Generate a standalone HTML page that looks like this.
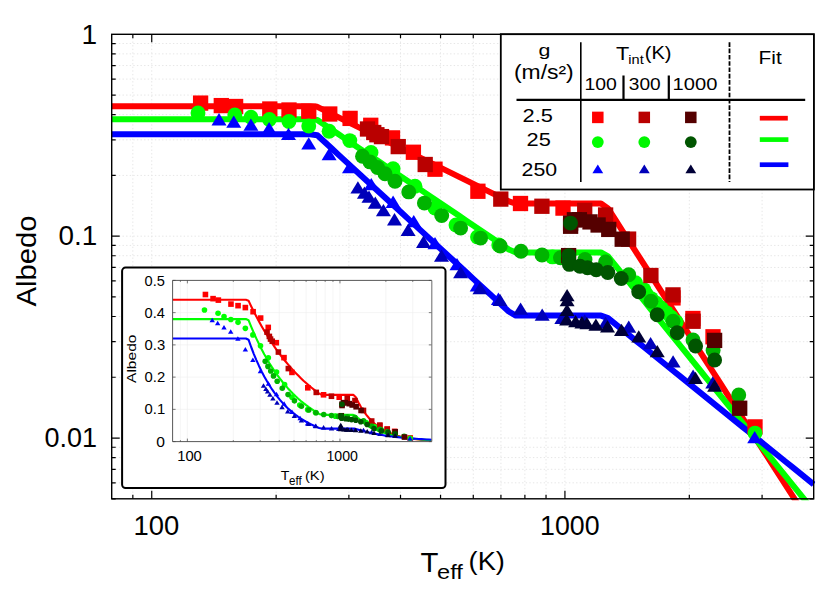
<!DOCTYPE html>
<html><head><meta charset="utf-8"><title>Albedo vs Teff</title>
<style>html,body{margin:0;padding:0;background:#fff;}body{width:832px;height:604px;overflow:hidden;font-family:"Liberation Sans",sans-serif;}</style>
</head><body>
<svg width="832" height="604" viewBox="0 0 832 604" style="display:block" font-family="Liberation Sans, sans-serif">
<rect width="832" height="604" fill="#ffffff"/>
<defs><clipPath id="cp"><rect x="111.7" y="34.3" width="703.5" height="466.0"/></clipPath><clipPath id="icp"><rect x="172.6" y="280.4" width="259.20000000000005" height="161.20000000000005"/></clipPath></defs>
<path d="M132.84,34.3V498.8 M151.74,34.3V498.8 M276.13,34.3V498.8 M348.88,34.3V498.8 M400.51,34.3V498.8 M440.55,34.3V498.8 M473.27,34.3V498.8 M500.93,34.3V498.8 M524.89,34.3V498.8 M546.03,34.3V498.8 M564.93,34.3V498.8 M689.32,34.3V498.8 M762.08,34.3V498.8 M111.7,482.82H813.7 M111.7,469.30H813.7 M111.7,457.60H813.7 M111.7,447.27H813.7 M111.7,438.03H813.7 M111.7,377.26H813.7 M111.7,341.72H813.7 M111.7,316.50H813.7 M111.7,296.93H813.7 M111.7,280.95H813.7 M111.7,267.44H813.7 M111.7,255.73H813.7 M111.7,245.40H813.7 M111.7,236.17H813.7 M111.7,175.40H813.7 M111.7,139.85H813.7 M111.7,114.63H813.7 M111.7,95.07H813.7 M111.7,79.08H813.7 M111.7,65.57H813.7 M111.7,53.86H813.7 M111.7,43.54H813.7" stroke="#e6e6e6" stroke-width="1" stroke-dasharray="1.4,2.2" fill="none"/>
<path d="M132.84,34.3v4M132.84,498.8v-4 M151.74,34.3v8M151.74,498.8v-8 M276.13,34.3v4M276.13,498.8v-4 M348.88,34.3v4M348.88,498.8v-4 M400.51,34.3v4M400.51,498.8v-4 M440.55,34.3v4M440.55,498.8v-4 M473.27,34.3v4M473.27,498.8v-4 M500.93,34.3v4M500.93,498.8v-4 M524.89,34.3v4M524.89,498.8v-4 M546.03,34.3v4M546.03,498.8v-4 M564.93,34.3v8M564.93,498.8v-8 M689.32,34.3v4M689.32,498.8v-4 M762.08,34.3v4M762.08,498.8v-4 M111.7,482.82h4M813.7,482.82h-4 M111.7,469.30h4M813.7,469.30h-4 M111.7,457.60h4M813.7,457.60h-4 M111.7,447.27h4M813.7,447.27h-4 M111.7,438.03h8M813.7,438.03h-8 M111.7,377.26h4M813.7,377.26h-4 M111.7,341.72h4M813.7,341.72h-4 M111.7,316.50h4M813.7,316.50h-4 M111.7,296.93h4M813.7,296.93h-4 M111.7,280.95h4M813.7,280.95h-4 M111.7,267.44h4M813.7,267.44h-4 M111.7,255.73h4M813.7,255.73h-4 M111.7,245.40h4M813.7,245.40h-4 M111.7,236.17h8M813.7,236.17h-8 M111.7,175.40h4M813.7,175.40h-4 M111.7,139.85h4M813.7,139.85h-4 M111.7,114.63h4M813.7,114.63h-4 M111.7,95.07h4M813.7,95.07h-4 M111.7,79.08h4M813.7,79.08h-4 M111.7,65.57h4M813.7,65.57h-4 M111.7,53.86h4M813.7,53.86h-4 M111.7,43.54h4M813.7,43.54h-4 M111.7,498.80h4M813.7,498.80h-4" stroke="#000" stroke-width="1.2" fill="none"/>
<g clip-path="url(#cp)" fill="none" stroke-width="6.0" stroke-linejoin="round">
<polyline points="111.70,106.27 118.79,106.27 125.88,106.27 132.97,106.27 140.06,106.27 147.15,106.27 154.25,106.27 161.34,106.27 168.43,106.27 175.52,106.27 182.61,106.27 189.70,106.27 196.79,106.27 203.88,106.27 210.97,106.27 218.06,106.27 225.15,106.27 232.25,106.27 239.34,106.27 246.43,106.27 253.52,106.27 260.61,106.27 267.70,106.27 274.79,106.27 281.88,106.27 288.97,106.27 296.06,106.27 303.15,106.27 310.25,106.27 317.34,106.85 324.43,110.35 331.52,113.85 338.61,117.35 345.70,120.85 352.79,124.35 359.88,127.85 366.97,131.35 374.06,134.85 381.15,138.35 388.25,141.85 395.34,145.36 402.43,148.86 409.52,152.36 416.61,155.86 423.70,159.36 430.79,162.86 437.88,166.36 444.97,169.86 452.06,173.36 459.15,176.86 466.25,180.36 473.34,183.86 480.43,187.36 487.52,190.86 494.61,194.36 501.70,197.86 508.79,201.36 515.88,203.59 522.97,203.59 530.06,203.59 537.15,203.59 544.25,203.59 551.34,203.59 558.43,203.59 565.52,203.59 572.61,203.59 579.70,203.59 586.79,203.59 593.88,203.59 600.97,203.59 608.06,208.40 615.15,219.45 622.25,230.51 629.34,241.56 636.43,252.61 643.52,263.66 650.61,274.71 657.70,285.76 664.79,296.81 671.88,307.86 678.97,318.91 686.06,329.96 693.15,341.02 700.25,352.07 707.34,363.12 714.43,374.17 721.52,385.22 728.61,396.27 735.70,407.32 742.79,418.37 749.88,429.42 756.97,440.48 764.06,451.53 771.15,462.58 778.25,473.63 785.34,484.68 792.43,495.73 799.52,506.78 806.61,517.83 813.70,528.88" stroke="#ff0000"/>
<polyline points="111.70,119.13 118.79,119.13 125.88,119.13 132.97,119.13 140.06,119.13 147.15,119.13 154.25,119.13 161.34,119.13 168.43,119.13 175.52,119.13 182.61,119.13 189.70,119.13 196.79,119.13 203.88,119.13 210.97,119.13 218.06,119.13 225.15,119.13 232.25,119.13 239.34,119.13 246.43,119.13 253.52,119.13 260.61,119.13 267.70,119.13 274.79,119.13 281.88,119.13 288.97,119.13 296.06,119.13 303.15,119.13 310.25,119.13 317.34,119.92 324.43,124.72 331.52,129.51 338.61,134.31 345.70,139.11 352.79,143.90 359.88,148.70 366.97,153.50 374.06,158.30 381.15,163.09 388.25,167.89 395.34,172.69 402.43,177.49 409.52,182.28 416.61,187.08 423.70,191.88 430.79,196.67 437.88,201.47 444.97,206.27 452.06,211.07 459.15,215.86 466.25,220.66 473.34,225.46 480.43,230.25 487.52,235.05 494.61,239.85 501.70,244.65 508.79,249.44 515.88,252.50 522.97,252.50 530.06,252.50 537.15,252.50 544.25,252.50 551.34,252.50 558.43,252.50 565.52,252.50 572.61,252.50 579.70,252.50 586.79,252.50 593.88,252.50 600.97,252.50 608.06,256.33 615.15,265.11 622.25,273.89 629.34,282.67 636.43,291.45 643.52,300.23 650.61,309.02 657.70,317.80 664.79,326.58 671.88,335.36 678.97,344.14 686.06,352.93 693.15,361.71 700.25,370.49 707.34,379.27 714.43,388.05 721.52,396.84 728.61,405.62 735.70,414.40 742.79,423.18 749.88,431.96 756.97,440.75 764.06,449.53 771.15,458.31 778.25,467.09 785.34,475.87 792.43,484.66 799.52,493.44 806.61,502.22 813.70,511.00" stroke="#00ff00"/>
<polyline points="111.70,134.19 118.79,134.19 125.88,134.19 132.97,134.19 140.06,134.19 147.15,134.19 154.25,134.19 161.34,134.19 168.43,134.19 175.52,134.19 182.61,134.19 189.70,134.19 196.79,134.19 203.88,134.19 210.97,134.19 218.06,134.19 225.15,134.19 232.25,134.19 239.34,134.19 246.43,134.19 253.52,134.19 260.61,134.19 267.70,134.19 274.79,134.19 281.88,134.19 288.97,134.19 296.06,134.19 303.15,134.19 310.25,134.19 317.34,135.27 324.43,141.79 331.52,148.32 338.61,154.85 345.70,161.37 352.79,167.90 359.88,174.42 366.97,180.95 374.06,187.48 381.15,194.00 388.25,200.53 395.34,207.05 402.43,213.58 409.52,220.10 416.61,226.63 423.70,233.16 430.79,239.68 437.88,246.21 444.97,252.73 452.06,259.26 459.15,265.78 466.25,272.31 473.34,278.84 480.43,285.36 487.52,291.89 494.61,298.41 501.70,304.94 508.79,311.47 515.88,315.62 522.97,315.62 530.06,315.62 537.15,315.62 544.25,315.62 551.34,315.62 558.43,315.62 565.52,315.62 572.61,315.62 579.70,315.62 586.79,315.62 593.88,315.62 600.97,315.62 608.06,318.12 615.15,323.85 622.25,329.59 629.34,335.32 636.43,341.05 643.52,346.79 650.61,352.52 657.70,358.25 664.79,363.99 671.88,369.72 678.97,375.45 686.06,381.19 693.15,386.92 700.25,392.65 707.34,398.39 714.43,404.12 721.52,409.86 728.61,415.59 735.70,421.32 742.79,427.06 749.88,432.79 756.97,438.52 764.06,444.26 771.15,449.99 778.25,455.72 785.34,461.46 792.43,467.19 799.52,472.92 806.61,478.66 813.70,484.39" stroke="#0000ff"/>
</g>
<g>
<rect x="192.95" y="95.45" width="15.30" height="15.30" fill="#ff0000"/>
<rect x="213.65" y="97.95" width="15.30" height="15.30" fill="#ff0000"/>
<rect x="227.95" y="98.85" width="15.30" height="15.30" fill="#ff0000"/>
<rect x="262.15" y="101.35" width="15.30" height="15.30" fill="#ff0000"/>
<rect x="281.35" y="102.35" width="15.30" height="15.30" fill="#ff0000"/>
<rect x="301.10" y="103.60" width="15.30" height="15.30" fill="#ff0000"/>
<rect x="322.10" y="106.35" width="15.30" height="15.30" fill="#ff0000"/>
<rect x="342.45" y="110.75" width="15.30" height="15.30" fill="#ff0000"/>
<rect x="363.10" y="117.65" width="15.30" height="15.30" fill="#ff0000"/>
<rect x="384.85" y="130.25" width="15.30" height="15.30" fill="#ff0000"/>
<rect x="405.75" y="144.60" width="15.30" height="15.30" fill="#ff0000"/>
<rect x="427.35" y="161.55" width="15.30" height="15.30" fill="#ff0000"/>
<rect x="470.25" y="183.60" width="15.30" height="15.30" fill="#ff0000"/>
<rect x="512.85" y="195.85" width="15.30" height="15.30" fill="#ff0000"/>
<rect x="555.35" y="200.45" width="15.30" height="15.30" fill="#ff0000"/>
<rect x="665.35" y="290.25" width="15.30" height="15.30" fill="#ff0000"/>
<rect x="685.25" y="310.85" width="15.30" height="15.30" fill="#ff0000"/>
<rect x="705.35" y="329.15" width="15.30" height="15.30" fill="#ff0000"/>
<rect x="747.35" y="419.25" width="15.30" height="15.30" fill="#ff0000"/>
<circle cx="198.00" cy="112.90" r="7.45" fill="#00ff00"/>
<circle cx="234.80" cy="115.00" r="7.45" fill="#00ff00"/>
<circle cx="251.00" cy="117.30" r="7.45" fill="#00ff00"/>
<circle cx="269.40" cy="119.40" r="7.45" fill="#00ff00"/>
<circle cx="288.90" cy="121.50" r="7.45" fill="#00ff00"/>
<circle cx="308.75" cy="126.00" r="7.45" fill="#00ff00"/>
<circle cx="329.10" cy="131.25" r="7.45" fill="#00ff00"/>
<circle cx="349.75" cy="140.60" r="7.45" fill="#00ff00"/>
<circle cx="371.00" cy="152.50" r="7.45" fill="#00ff00"/>
<circle cx="393.10" cy="168.75" r="7.45" fill="#00ff00"/>
<circle cx="415.00" cy="186.25" r="7.45" fill="#00ff00"/>
<circle cx="435.00" cy="208.00" r="7.45" fill="#00ff00"/>
<circle cx="456.00" cy="225.00" r="7.45" fill="#00ff00"/>
<circle cx="477.50" cy="236.90" r="7.45" fill="#00ff00"/>
<circle cx="498.75" cy="245.00" r="7.45" fill="#00ff00"/>
<circle cx="552.50" cy="256.90" r="7.45" fill="#00ff00"/>
<circle cx="635.50" cy="282.80" r="7.45" fill="#00ff00"/>
<circle cx="643.70" cy="289.60" r="7.45" fill="#00ff00"/>
<circle cx="646.20" cy="293.90" r="7.45" fill="#00ff00"/>
<circle cx="651.20" cy="298.60" r="7.45" fill="#00ff00"/>
<circle cx="656.20" cy="303.20" r="7.45" fill="#00ff00"/>
<circle cx="661.20" cy="307.90" r="7.45" fill="#00ff00"/>
<circle cx="666.20" cy="312.60" r="7.45" fill="#00ff00"/>
<circle cx="671.20" cy="317.20" r="7.45" fill="#00ff00"/>
<circle cx="676.20" cy="321.90" r="7.45" fill="#00ff00"/>
<circle cx="755.00" cy="433.10" r="7.45" fill="#00ff00"/>
<polygon points="219.00,113.10 226.50,125.40 211.50,125.40" fill="#0000ff"/>
<polygon points="233.75,115.40 241.25,127.70 226.25,127.70" fill="#0000ff"/>
<polygon points="250.90,118.50 258.40,130.80 243.40,130.80" fill="#0000ff"/>
<polygon points="269.10,121.90 276.60,134.20 261.60,134.20" fill="#0000ff"/>
<polygon points="288.50,127.75 296.00,140.05 281.00,140.05" fill="#0000ff"/>
<polygon points="308.75,137.25 316.25,149.55 301.25,149.55" fill="#0000ff"/>
<polygon points="329.10,148.00 336.60,160.30 321.60,160.30" fill="#0000ff"/>
<polygon points="349.50,161.00 357.00,173.30 342.00,173.30" fill="#0000ff"/>
<polygon points="371.25,178.00 378.75,190.30 363.75,190.30" fill="#0000ff"/>
<polygon points="393.10,195.60 400.60,207.90 385.60,207.90" fill="#0000ff"/>
<polygon points="413.75,215.00 421.25,227.30 406.25,227.30" fill="#0000ff"/>
<polygon points="435.00,236.90 442.50,249.20 427.50,249.20" fill="#0000ff"/>
<polygon points="457.00,258.00 464.50,270.30 449.50,270.30" fill="#0000ff"/>
<polygon points="477.20,279.30 484.70,291.60 469.70,291.60" fill="#0000ff"/>
<polygon points="498.40,292.60 505.90,304.90 490.90,304.90" fill="#0000ff"/>
<polygon points="754.70,431.00 762.20,443.30 747.20,443.30" fill="#0000ff"/>
<rect x="359.85" y="121.35" width="15.30" height="15.30" fill="#b90000"/>
<rect x="366.10" y="124.85" width="15.30" height="15.30" fill="#b90000"/>
<rect x="369.25" y="127.10" width="15.30" height="15.30" fill="#b90000"/>
<rect x="373.85" y="128.95" width="15.30" height="15.30" fill="#b90000"/>
<rect x="390.60" y="138.95" width="15.30" height="15.30" fill="#b90000"/>
<rect x="417.55" y="156.85" width="15.30" height="15.30" fill="#b90000"/>
<rect x="493.15" y="191.45" width="15.30" height="15.30" fill="#b90000"/>
<rect x="534.25" y="198.60" width="15.30" height="15.30" fill="#b90000"/>
<rect x="577.05" y="202.75" width="15.30" height="15.30" fill="#b90000"/>
<rect x="597.95" y="207.35" width="15.30" height="15.30" fill="#b90000"/>
<rect x="620.95" y="231.45" width="15.30" height="15.30" fill="#b90000"/>
<rect x="643.25" y="267.85" width="15.30" height="15.30" fill="#b90000"/>
<rect x="665.35" y="287.25" width="15.30" height="15.30" fill="#b90000"/>
<rect x="685.45" y="313.60" width="15.30" height="15.30" fill="#b90000"/>
<circle cx="362.50" cy="156.20" r="7.45" fill="#00b400"/>
<circle cx="370.00" cy="161.90" r="7.45" fill="#00b400"/>
<circle cx="377.50" cy="167.50" r="7.45" fill="#00b400"/>
<circle cx="385.00" cy="173.75" r="7.45" fill="#00b400"/>
<circle cx="395.00" cy="181.25" r="7.45" fill="#00b400"/>
<circle cx="408.75" cy="191.90" r="7.45" fill="#00b400"/>
<circle cx="424.40" cy="203.10" r="7.45" fill="#00b400"/>
<circle cx="441.70" cy="215.60" r="7.45" fill="#00b400"/>
<circle cx="460.60" cy="228.10" r="7.45" fill="#00b400"/>
<circle cx="480.60" cy="238.10" r="7.45" fill="#00b400"/>
<circle cx="500.25" cy="246.00" r="7.45" fill="#00b400"/>
<circle cx="521.00" cy="251.25" r="7.45" fill="#00b400"/>
<circle cx="542.00" cy="255.00" r="7.45" fill="#00b400"/>
<circle cx="560.50" cy="257.80" r="7.45" fill="#00b400"/>
<circle cx="585.00" cy="259.40" r="7.45" fill="#00b400"/>
<circle cx="605.60" cy="262.00" r="7.45" fill="#00b400"/>
<circle cx="628.75" cy="274.70" r="7.45" fill="#00b400"/>
<circle cx="651.00" cy="301.25" r="7.45" fill="#00b400"/>
<circle cx="673.10" cy="321.25" r="7.45" fill="#00b400"/>
<circle cx="693.00" cy="340.00" r="7.45" fill="#00b400"/>
<circle cx="713.10" cy="350.60" r="7.45" fill="#00b400"/>
<circle cx="738.75" cy="395.00" r="7.45" fill="#00b400"/>
<polygon points="357.90,181.25 365.40,193.55 350.40,193.55" fill="#0000b9"/>
<polygon points="364.40,186.40 371.90,198.70 356.90,198.70" fill="#0000b9"/>
<polygon points="369.00,190.50 376.50,202.80 361.50,202.80" fill="#0000b9"/>
<polygon points="375.30,196.40 382.80,208.70 367.80,208.70" fill="#0000b9"/>
<polygon points="383.40,204.00 390.90,216.30 375.90,216.30" fill="#0000b9"/>
<polygon points="394.50,213.10 402.00,225.40 387.00,225.40" fill="#0000b9"/>
<polygon points="408.10,223.75 415.60,236.05 400.60,236.05" fill="#0000b9"/>
<polygon points="423.50,235.60 431.00,247.90 416.00,247.90" fill="#0000b9"/>
<polygon points="441.50,249.40 449.00,261.70 434.00,261.70" fill="#0000b9"/>
<polygon points="460.60,266.00 468.10,278.30 453.10,278.30" fill="#0000b9"/>
<polygon points="480.00,281.90 487.50,294.20 472.50,294.20" fill="#0000b9"/>
<polygon points="500.00,293.75 507.50,306.05 492.50,306.05" fill="#0000b9"/>
<polygon points="520.60,302.50 528.10,314.80 513.10,314.80" fill="#0000b9"/>
<polygon points="542.20,308.50 549.70,320.80 534.70,320.80" fill="#0000b9"/>
<polygon points="561.80,311.70 569.30,324.00 554.30,324.00" fill="#0000b9"/>
<polygon points="584.70,314.30 592.20,326.60 577.20,326.60" fill="#0000b9"/>
<polygon points="605.50,316.50 613.00,328.80 598.00,328.80" fill="#0000b9"/>
<polygon points="628.75,320.40 636.25,332.70 621.25,332.70" fill="#0000b9"/>
<polygon points="650.60,336.90 658.10,349.20 643.10,349.20" fill="#0000b9"/>
<polygon points="673.10,355.25 680.60,367.55 665.60,367.55" fill="#0000b9"/>
<polygon points="693.10,369.40 700.60,381.70 685.60,381.70" fill="#0000b9"/>
<polygon points="712.75,376.25 720.25,388.55 705.25,388.55" fill="#0000b9"/>
<rect x="562.95" y="215.45" width="15.30" height="15.30" fill="#550000"/>
<rect x="562.95" y="218.60" width="15.30" height="15.30" fill="#550000"/>
<rect x="566.75" y="212.10" width="15.30" height="15.30" fill="#550000"/>
<rect x="571.75" y="212.10" width="15.30" height="15.30" fill="#550000"/>
<rect x="582.35" y="214.25" width="15.30" height="15.30" fill="#550000"/>
<rect x="590.45" y="217.35" width="15.30" height="15.30" fill="#550000"/>
<rect x="601.10" y="221.75" width="15.30" height="15.30" fill="#550000"/>
<rect x="614.55" y="231.55" width="15.30" height="15.30" fill="#550000"/>
<rect x="560.95" y="247.95" width="15.30" height="15.30" fill="#550000"/>
<rect x="706.95" y="332.75" width="15.30" height="15.30" fill="#550000"/>
<rect x="732.05" y="400.60" width="15.30" height="15.30" fill="#550000"/>
<circle cx="570.50" cy="223.10" r="7.45" fill="#005500"/>
<circle cx="568.75" cy="255.60" r="7.45" fill="#005500"/>
<circle cx="568.90" cy="261.00" r="7.45" fill="#005500"/>
<circle cx="569.40" cy="264.40" r="7.45" fill="#005500"/>
<circle cx="580.00" cy="266.25" r="7.45" fill="#005500"/>
<circle cx="587.50" cy="267.75" r="7.45" fill="#005500"/>
<circle cx="596.25" cy="269.75" r="7.45" fill="#005500"/>
<circle cx="607.80" cy="272.50" r="7.45" fill="#005500"/>
<circle cx="621.25" cy="278.50" r="7.45" fill="#005500"/>
<circle cx="638.70" cy="291.80" r="7.45" fill="#005500"/>
<circle cx="657.20" cy="314.80" r="7.45" fill="#005500"/>
<circle cx="677.20" cy="332.80" r="7.45" fill="#005500"/>
<circle cx="695.60" cy="346.00" r="7.45" fill="#005500"/>
<circle cx="714.60" cy="360.00" r="7.45" fill="#005500"/>
<polygon points="567.10,289.00 574.60,301.30 559.60,301.30" fill="#000037"/>
<polygon points="567.10,293.90 574.60,306.20 559.60,306.20" fill="#000037"/>
<polygon points="567.00,303.80 574.50,316.10 559.50,316.10" fill="#000037"/>
<polygon points="566.60,313.20 574.10,325.50 559.10,325.50" fill="#000037"/>
<polygon points="575.60,314.90 583.10,327.20 568.10,327.20" fill="#000037"/>
<polygon points="581.90,316.10 589.40,328.40 574.40,328.40" fill="#000037"/>
<polygon points="586.90,317.00 594.40,329.30 579.40,329.30" fill="#000037"/>
<polygon points="595.90,318.50 603.40,330.80 588.40,330.80" fill="#000037"/>
<polygon points="607.50,320.25 615.00,332.55 600.00,332.55" fill="#000037"/>
<polygon points="621.50,323.75 629.00,336.05 614.00,336.05" fill="#000037"/>
<polygon points="638.75,330.25 646.25,342.55 631.25,342.55" fill="#000037"/>
<polygon points="657.25,345.00 664.75,357.30 649.75,357.30" fill="#000037"/>
<polygon points="695.50,371.70 703.00,384.00 688.00,384.00" fill="#000037"/>
<polygon points="714.60,379.40 722.10,391.70 707.10,391.70" fill="#000037"/>
</g>
<rect x="111.7" y="34.3" width="702.0" height="464.5" fill="none" stroke="#000" stroke-width="1.4"/>
<rect x="122.1" y="267.6" width="323.4" height="220.39999999999998" rx="3.5" fill="#fff" stroke="#000" stroke-width="2"/>
<path d="M180.40,280.4V441.6 M187.38,280.4V441.6 M233.31,280.4V441.6 M260.18,280.4V441.6 M279.24,280.4V441.6 M294.02,280.4V441.6 M306.10,280.4V441.6 M316.32,280.4V441.6 M325.16,280.4V441.6 M332.97,280.4V441.6 M339.95,280.4V441.6 M385.87,280.4V441.6 M412.74,280.4V441.6 M172.6,409.36H431.8 M172.6,377.12H431.8 M172.6,344.88H431.8 M172.6,312.64H431.8" stroke="#efefef" stroke-width="0.6" fill="none"/>
<path d="M180.40,280.4v1.5M180.40,441.6v-1.5 M187.38,280.4v3M187.38,441.6v-3 M233.31,280.4v1.5M233.31,441.6v-1.5 M260.18,280.4v1.5M260.18,441.6v-1.5 M279.24,280.4v1.5M279.24,441.6v-1.5 M294.02,280.4v1.5M294.02,441.6v-1.5 M306.10,280.4v1.5M306.10,441.6v-1.5 M316.32,280.4v1.5M316.32,441.6v-1.5 M325.16,280.4v1.5M325.16,441.6v-1.5 M332.97,280.4v1.5M332.97,441.6v-1.5 M339.95,280.4v3M339.95,441.6v-3 M385.87,280.4v1.5M385.87,441.6v-1.5 M412.74,280.4v1.5M412.74,441.6v-1.5 M172.6,441.60h3M431.8,441.60h-3 M172.6,409.36h3M431.8,409.36h-3 M172.6,377.12h3M431.8,377.12h-3 M172.6,344.88h3M431.8,344.88h-3 M172.6,312.64h3M431.8,312.64h-3 M172.6,280.40h3M431.8,280.40h-3" stroke="#444" stroke-width="0.7" fill="none"/>
<g clip-path="url(#icp)" fill="none" stroke-width="2.1" stroke-linejoin="round">
<polyline points="172.60,299.74 175.22,299.74 177.84,299.74 180.45,299.74 183.07,299.74 185.69,299.74 188.31,299.74 190.93,299.74 193.55,299.74 196.16,299.74 198.78,299.74 201.40,299.74 204.02,299.74 206.64,299.74 209.25,299.74 211.87,299.74 214.49,299.74 217.11,299.74 219.73,299.74 222.35,299.74 224.96,299.74 227.58,299.74 230.20,299.74 232.82,299.74 235.44,299.74 238.05,299.74 240.67,299.74 243.29,299.74 245.91,299.74 248.53,300.67 251.15,306.19 253.76,311.49 256.38,316.58 259.00,321.48 261.62,326.18 264.24,330.69 266.85,335.04 269.47,339.21 272.09,343.21 274.71,347.07 277.33,350.77 279.95,354.32 282.56,357.74 285.18,361.02 287.80,364.17 290.42,367.20 293.04,370.12 295.65,372.91 298.27,375.60 300.89,378.18 303.51,380.67 306.13,383.05 308.75,385.34 311.36,387.55 313.98,389.66 316.60,391.69 319.22,393.65 321.84,394.85 324.45,394.85 327.07,394.85 329.69,394.85 332.31,394.85 334.93,394.85 337.55,394.85 340.16,394.85 342.78,394.85 345.40,394.85 348.02,394.85 350.64,394.85 353.25,394.85 355.87,397.35 358.49,402.59 361.11,407.21 363.73,411.28 366.35,414.87 368.96,418.04 371.58,420.83 374.20,423.29 376.82,425.46 379.44,427.37 382.05,429.05 384.67,430.54 387.29,431.85 389.91,433.00 392.53,434.02 395.15,434.92 397.76,435.71 400.38,436.41 403.00,437.02 405.62,437.57 408.24,438.04 410.85,438.46 413.47,438.84 416.09,439.16 418.71,439.45 421.33,439.71 423.95,439.93 426.56,440.13 429.18,440.30 431.80,440.46" stroke="#ff0000"/>
<polyline points="172.60,319.09 175.22,319.09 177.84,319.09 180.45,319.09 183.07,319.09 185.69,319.09 188.31,319.09 190.93,319.09 193.55,319.09 196.16,319.09 198.78,319.09 201.40,319.09 204.02,319.09 206.64,319.09 209.25,319.09 211.87,319.09 214.49,319.09 217.11,319.09 219.73,319.09 222.35,319.09 224.96,319.09 227.58,319.09 230.20,319.09 232.82,319.09 235.44,319.09 238.05,319.09 240.67,319.09 243.29,319.09 245.91,319.09 248.53,320.19 251.15,326.65 253.76,332.77 256.38,338.57 259.00,344.06 261.62,349.25 264.24,354.17 266.85,358.82 269.47,363.23 272.09,367.40 274.71,371.35 277.33,375.10 279.95,378.64 282.56,381.99 285.18,385.16 287.80,388.17 290.42,391.01 293.04,393.71 295.65,396.26 298.27,398.67 300.89,400.96 303.51,403.12 306.13,405.17 308.75,407.11 311.36,408.95 313.98,410.69 316.60,412.33 319.22,413.89 321.84,414.84 324.45,414.84 327.07,414.84 329.69,414.84 332.31,414.84 334.93,414.84 337.55,414.84 340.16,414.84 342.78,414.84 345.40,414.84 348.02,414.84 350.64,414.84 353.25,414.84 355.87,415.98 358.49,418.42 361.11,420.63 363.73,422.63 366.35,424.44 368.96,426.08 371.58,427.56 374.20,428.89 376.82,430.11 379.44,431.20 382.05,432.19 384.67,433.09 387.29,433.90 389.91,434.63 392.53,435.30 395.15,435.90 397.76,436.44 400.38,436.93 403.00,437.38 405.62,437.78 408.24,438.14 410.85,438.47 413.47,438.77 416.09,439.04 418.71,439.29 421.33,439.51 423.95,439.71 426.56,439.89 429.18,440.05 431.80,440.20" stroke="#00ff00"/>
<polyline points="172.60,338.43 175.22,338.43 177.84,338.43 180.45,338.43 183.07,338.43 185.69,338.43 188.31,338.43 190.93,338.43 193.55,338.43 196.16,338.43 198.78,338.43 201.40,338.43 204.02,338.43 206.64,338.43 209.25,338.43 211.87,338.43 214.49,338.43 217.11,338.43 219.73,338.43 222.35,338.43 224.96,338.43 227.58,338.43 230.20,338.43 232.82,338.43 235.44,338.43 238.05,338.43 240.67,338.43 243.29,338.43 245.91,338.43 248.53,339.69 251.15,347.00 253.76,353.79 256.38,360.09 259.00,365.93 261.62,371.36 264.24,376.40 266.85,381.08 269.47,385.42 272.09,389.45 274.71,393.19 277.33,396.66 279.95,399.89 282.56,402.88 285.18,405.66 287.80,408.23 290.42,410.63 293.04,412.85 295.65,414.91 298.27,416.83 300.89,418.60 303.51,420.25 306.13,421.78 308.75,423.21 311.36,424.52 313.98,425.75 316.60,426.89 319.22,427.94 321.84,428.58 324.45,428.58 327.07,428.58 329.69,428.58 332.31,428.58 334.93,428.58 337.55,428.58 340.16,428.58 342.78,428.58 345.40,428.58 348.02,428.58 350.64,428.58 353.25,428.58 355.87,428.94 358.49,429.74 361.11,430.49 363.73,431.20 366.35,431.85 368.96,432.47 371.58,433.05 374.20,433.59 376.82,434.10 379.44,434.57 382.05,435.02 384.67,435.43 387.29,435.82 389.91,436.19 392.53,436.53 395.15,436.85 397.76,437.15 400.38,437.44 403.00,437.70 405.62,437.95 408.24,438.18 410.85,438.39 413.47,438.60 416.09,438.79 418.71,438.97 421.33,439.13 423.95,439.29 426.56,439.43 429.18,439.57 431.80,439.70" stroke="#0000ff"/>
</g>
<g>
<rect x="202.62" y="291.71" width="5.60" height="5.60" fill="#ff0000"/>
<rect x="210.27" y="295.85" width="5.60" height="5.60" fill="#ff0000"/>
<rect x="215.55" y="297.31" width="5.60" height="5.60" fill="#ff0000"/>
<rect x="228.18" y="301.29" width="5.60" height="5.60" fill="#ff0000"/>
<rect x="235.26" y="302.85" width="5.60" height="5.60" fill="#ff0000"/>
<rect x="242.56" y="304.77" width="5.60" height="5.60" fill="#ff0000"/>
<rect x="250.31" y="308.91" width="5.60" height="5.60" fill="#ff0000"/>
<rect x="257.82" y="315.27" width="5.60" height="5.60" fill="#ff0000"/>
<rect x="265.45" y="324.62" width="5.60" height="5.60" fill="#ff0000"/>
<rect x="273.48" y="339.90" width="5.60" height="5.60" fill="#ff0000"/>
<rect x="281.20" y="354.84" width="5.60" height="5.60" fill="#ff0000"/>
<rect x="289.17" y="369.60" width="5.60" height="5.60" fill="#ff0000"/>
<rect x="305.01" y="384.99" width="5.60" height="5.60" fill="#ff0000"/>
<rect x="320.74" y="392.00" width="5.60" height="5.60" fill="#ff0000"/>
<rect x="336.43" y="394.40" width="5.60" height="5.60" fill="#ff0000"/>
<rect x="377.05" y="422.86" width="5.60" height="5.60" fill="#ff0000"/>
<rect x="384.40" y="426.20" width="5.60" height="5.60" fill="#ff0000"/>
<rect x="391.82" y="428.57" width="5.60" height="5.60" fill="#ff0000"/>
<rect x="407.33" y="435.14" width="5.60" height="5.60" fill="#ff0000"/>
<circle cx="204.46" cy="310.07" r="2.80" fill="#00ff00"/>
<circle cx="218.05" cy="313.18" r="2.80" fill="#00ff00"/>
<circle cx="224.03" cy="316.51" r="2.80" fill="#00ff00"/>
<circle cx="230.83" cy="319.47" r="2.80" fill="#00ff00"/>
<circle cx="238.03" cy="322.36" r="2.80" fill="#00ff00"/>
<circle cx="245.36" cy="328.33" r="2.80" fill="#00ff00"/>
<circle cx="252.87" cy="334.91" r="2.80" fill="#00ff00"/>
<circle cx="260.50" cy="345.70" r="2.80" fill="#00ff00"/>
<circle cx="268.34" cy="357.87" r="2.80" fill="#00ff00"/>
<circle cx="276.50" cy="372.04" r="2.80" fill="#00ff00"/>
<circle cx="284.59" cy="384.63" r="2.80" fill="#00ff00"/>
<circle cx="291.97" cy="397.14" r="2.80" fill="#00ff00"/>
<circle cx="299.73" cy="404.98" r="2.80" fill="#00ff00"/>
<circle cx="307.66" cy="409.63" r="2.80" fill="#00ff00"/>
<circle cx="315.51" cy="412.45" r="2.80" fill="#00ff00"/>
<circle cx="335.36" cy="416.15" r="2.80" fill="#00ff00"/>
<circle cx="366.00" cy="422.66" r="2.80" fill="#00ff00"/>
<circle cx="369.03" cy="424.07" r="2.80" fill="#00ff00"/>
<circle cx="369.95" cy="424.91" r="2.80" fill="#00ff00"/>
<circle cx="371.80" cy="425.78" r="2.80" fill="#00ff00"/>
<circle cx="373.65" cy="426.59" r="2.80" fill="#00ff00"/>
<circle cx="375.49" cy="427.38" r="2.80" fill="#00ff00"/>
<circle cx="377.34" cy="428.12" r="2.80" fill="#00ff00"/>
<circle cx="379.18" cy="428.81" r="2.80" fill="#00ff00"/>
<circle cx="381.03" cy="429.47" r="2.80" fill="#00ff00"/>
<circle cx="410.13" cy="438.19" r="2.80" fill="#00ff00"/>
<polygon points="212.22,317.64 214.92,322.14 209.52,322.14" fill="#0000ff"/>
<polygon points="217.66,320.79 220.36,325.29 214.96,325.29" fill="#0000ff"/>
<polygon points="224.00,324.90 226.70,329.40 221.30,329.40" fill="#0000ff"/>
<polygon points="230.72,329.24 233.42,333.74 228.02,333.74" fill="#0000ff"/>
<polygon points="237.88,336.33 240.58,340.83 235.18,340.83" fill="#0000ff"/>
<polygon points="245.36,346.89 248.06,351.39 242.66,351.39" fill="#0000ff"/>
<polygon points="252.87,357.53 255.57,362.03 250.17,362.03" fill="#0000ff"/>
<polygon points="260.40,368.78 263.10,373.28 257.70,373.28" fill="#0000ff"/>
<polygon points="268.43,381.18 271.13,385.68 265.73,385.68" fill="#0000ff"/>
<polygon points="276.50,391.72 279.20,396.22 273.80,396.22" fill="#0000ff"/>
<polygon points="284.13,401.13 286.83,405.63 281.43,405.63" fill="#0000ff"/>
<polygon points="291.97,409.53 294.67,414.03 289.27,414.03" fill="#0000ff"/>
<polygon points="300.10,415.86 302.80,420.36 297.40,420.36" fill="#0000ff"/>
<polygon points="307.55,420.88 310.25,425.38 304.85,425.38" fill="#0000ff"/>
<polygon points="315.38,423.45 318.08,427.95 312.68,427.95" fill="#0000ff"/>
<polygon points="410.02,435.89 412.72,440.39 407.32,440.39" fill="#0000ff"/>
<rect x="264.25" y="329.34" width="5.60" height="5.60" fill="#b90000"/>
<rect x="266.56" y="333.62" width="5.60" height="5.60" fill="#b90000"/>
<rect x="267.72" y="336.28" width="5.60" height="5.60" fill="#b90000"/>
<rect x="269.42" y="338.43" width="5.60" height="5.60" fill="#b90000"/>
<rect x="275.60" y="349.25" width="5.60" height="5.60" fill="#b90000"/>
<rect x="285.55" y="365.78" width="5.60" height="5.60" fill="#b90000"/>
<rect x="313.47" y="389.59" width="5.60" height="5.60" fill="#b90000"/>
<rect x="328.64" y="393.45" width="5.60" height="5.60" fill="#b90000"/>
<rect x="344.45" y="395.55" width="5.60" height="5.60" fill="#b90000"/>
<rect x="352.16" y="397.76" width="5.60" height="5.60" fill="#b90000"/>
<rect x="360.66" y="407.62" width="5.60" height="5.60" fill="#b90000"/>
<rect x="368.89" y="418.22" width="5.60" height="5.60" fill="#b90000"/>
<rect x="377.05" y="422.30" width="5.60" height="5.60" fill="#b90000"/>
<rect x="384.47" y="426.58" width="5.60" height="5.60" fill="#b90000"/>
<circle cx="265.20" cy="361.33" r="2.80" fill="#00b400"/>
<circle cx="267.97" cy="366.39" r="2.80" fill="#00b400"/>
<circle cx="270.74" cy="371.04" r="2.80" fill="#00b400"/>
<circle cx="273.51" cy="375.90" r="2.80" fill="#00b400"/>
<circle cx="277.20" cy="381.28" r="2.80" fill="#00b400"/>
<circle cx="282.28" cy="388.18" r="2.80" fill="#00b400"/>
<circle cx="288.06" cy="394.59" r="2.80" fill="#00b400"/>
<circle cx="294.45" cy="400.84" r="2.80" fill="#00b400"/>
<circle cx="301.42" cy="406.25" r="2.80" fill="#00b400"/>
<circle cx="308.81" cy="410.06" r="2.80" fill="#00b400"/>
<circle cx="316.06" cy="412.78" r="2.80" fill="#00b400"/>
<circle cx="323.73" cy="414.46" r="2.80" fill="#00b400"/>
<circle cx="331.48" cy="415.59" r="2.80" fill="#00b400"/>
<circle cx="338.31" cy="416.41" r="2.80" fill="#00b400"/>
<circle cx="347.36" cy="416.87" r="2.80" fill="#00b400"/>
<circle cx="354.96" cy="417.59" r="2.80" fill="#00b400"/>
<circle cx="363.51" cy="420.83" r="2.80" fill="#00b400"/>
<circle cx="371.73" cy="426.25" r="2.80" fill="#00b400"/>
<circle cx="379.89" cy="429.38" r="2.80" fill="#00b400"/>
<circle cx="387.23" cy="431.74" r="2.80" fill="#00b400"/>
<circle cx="394.66" cy="432.86" r="2.80" fill="#00b400"/>
<circle cx="404.13" cy="436.33" r="2.80" fill="#00b400"/>
<polygon points="263.50,383.29 266.20,387.79 260.80,387.79" fill="#0000b9"/>
<polygon points="265.90,386.47 268.60,390.97 263.20,390.97" fill="#0000b9"/>
<polygon points="267.60,388.88 270.30,393.38 264.90,393.38" fill="#0000b9"/>
<polygon points="269.93,392.15 272.63,396.65 267.23,396.65" fill="#0000b9"/>
<polygon points="272.92,396.05 275.62,400.55 270.22,400.55" fill="#0000b9"/>
<polygon points="277.02,400.30 279.72,404.80 274.32,404.80" fill="#0000b9"/>
<polygon points="282.04,404.74 284.74,409.24 279.34,409.24" fill="#0000b9"/>
<polygon points="287.73,409.09 290.43,413.59 285.03,413.59" fill="#0000b9"/>
<polygon points="294.37,413.46 297.07,417.96 291.67,417.96" fill="#0000b9"/>
<polygon points="301.42,417.89 304.12,422.39 298.72,422.39" fill="#0000b9"/>
<polygon points="308.59,421.41 311.29,425.91 305.89,425.91" fill="#0000b9"/>
<polygon points="315.97,423.65 318.67,428.15 313.27,428.15" fill="#0000b9"/>
<polygon points="323.58,425.12 326.28,429.62 320.88,429.62" fill="#0000b9"/>
<polygon points="331.55,426.05 334.25,430.55 328.85,430.55" fill="#0000b9"/>
<polygon points="338.79,426.52 341.49,431.02 336.09,431.02" fill="#0000b9"/>
<polygon points="347.25,426.88 349.95,431.38 344.55,431.38" fill="#0000b9"/>
<polygon points="354.93,427.19 357.63,431.69 352.23,431.69" fill="#0000b9"/>
<polygon points="363.51,427.71 366.21,432.21 360.81,432.21" fill="#0000b9"/>
<polygon points="371.58,429.67 374.28,434.17 368.88,434.17" fill="#0000b9"/>
<polygon points="379.89,431.45 382.59,435.95 377.19,435.95" fill="#0000b9"/>
<polygon points="387.27,432.60 389.97,437.10 384.57,437.10" fill="#0000b9"/>
<polygon points="394.53,433.09 397.23,437.59 391.83,437.59" fill="#0000b9"/>
<rect x="339.24" y="401.38" width="5.60" height="5.60" fill="#550000"/>
<rect x="339.24" y="402.70" width="5.60" height="5.60" fill="#550000"/>
<rect x="340.64" y="399.92" width="5.60" height="5.60" fill="#550000"/>
<rect x="342.49" y="399.92" width="5.60" height="5.60" fill="#550000"/>
<rect x="346.40" y="400.86" width="5.60" height="5.60" fill="#550000"/>
<rect x="349.39" y="402.18" width="5.60" height="5.60" fill="#550000"/>
<rect x="353.33" y="403.97" width="5.60" height="5.60" fill="#550000"/>
<rect x="358.29" y="407.66" width="5.60" height="5.60" fill="#550000"/>
<rect x="338.50" y="412.97" width="5.60" height="5.60" fill="#550000"/>
<rect x="392.41" y="428.98" width="5.60" height="5.60" fill="#550000"/>
<rect x="401.68" y="434.27" width="5.60" height="5.60" fill="#550000"/>
<circle cx="342.00" cy="404.18" r="2.80" fill="#005500"/>
<circle cx="341.36" cy="415.77" r="2.80" fill="#005500"/>
<circle cx="341.41" cy="417.31" r="2.80" fill="#005500"/>
<circle cx="341.60" cy="418.24" r="2.80" fill="#005500"/>
<circle cx="345.51" cy="418.72" r="2.80" fill="#005500"/>
<circle cx="348.28" cy="419.11" r="2.80" fill="#005500"/>
<circle cx="351.51" cy="419.62" r="2.80" fill="#005500"/>
<circle cx="355.78" cy="420.30" r="2.80" fill="#005500"/>
<circle cx="360.74" cy="421.71" r="2.80" fill="#005500"/>
<circle cx="367.18" cy="424.51" r="2.80" fill="#005500"/>
<circle cx="374.02" cy="428.45" r="2.80" fill="#005500"/>
<circle cx="381.40" cy="430.89" r="2.80" fill="#005500"/>
<circle cx="388.19" cy="432.39" r="2.80" fill="#005500"/>
<circle cx="395.21" cy="433.75" r="2.80" fill="#005500"/>
<polygon points="340.75,422.79 343.45,427.29 338.05,427.29" fill="#000037"/>
<polygon points="340.75,423.68 343.45,428.18 338.05,428.18" fill="#000037"/>
<polygon points="340.71,425.33 343.41,429.83 338.01,429.83" fill="#000037"/>
<polygon points="340.56,426.73 343.26,431.23 337.86,431.23" fill="#000037"/>
<polygon points="343.89,426.97 346.59,431.47 341.19,431.47" fill="#000037"/>
<polygon points="346.21,427.13 348.91,431.63 343.51,431.63" fill="#000037"/>
<polygon points="348.06,427.26 350.76,431.76 345.36,431.76" fill="#000037"/>
<polygon points="351.38,427.46 354.08,431.96 348.68,431.96" fill="#000037"/>
<polygon points="355.66,427.69 358.36,432.19 352.96,432.19" fill="#000037"/>
<polygon points="360.83,428.13 363.53,432.63 358.13,432.63" fill="#000037"/>
<polygon points="367.20,428.92 369.90,433.42 364.50,433.42" fill="#000037"/>
<polygon points="374.03,430.50 376.73,435.00 371.33,435.00" fill="#000037"/>
<polygon points="388.16,432.76 390.86,437.26 385.46,437.26" fill="#000037"/>
<polygon points="395.21,433.30 397.91,437.80 392.51,437.80" fill="#000037"/>
</g>
<path d="M431.8,280.4H172.6V441.6H431.8" fill="none" stroke="#444" stroke-width="0.9"/>
<path d="M431.8,280.4V441.6" fill="none" stroke="#777" stroke-width="1.1"/>
<rect x="500.8" y="34.2" width="313.09999999999997" height="155.3" fill="#fff" stroke="#000" stroke-width="1.8"/>
<path d="M580.8,42.3V182.1" stroke="#000" stroke-width="1.6"/>
<path d="M516.5,99.9H805.2" stroke="#000" stroke-width="2.2"/>
<path d="M623.5,75.6V99M668.8,75.6V99" stroke="#000" stroke-width="2.2"/>
<path d="M729.5,42.3V182.1" stroke="#000" stroke-width="1.8" stroke-dasharray="4.6,1.7"/>
<rect x="592.05" y="111.65" width="11.50" height="11.50" fill="#ff0000"/>
<rect x="638.55" y="111.65" width="11.50" height="11.50" fill="#b90000"/>
<rect x="685.05" y="111.65" width="11.50" height="11.50" fill="#550000"/>
<circle cx="597.80" cy="142.10" r="5.90" fill="#00ff00"/>
<circle cx="644.30" cy="142.10" r="5.90" fill="#00f500"/>
<circle cx="690.80" cy="142.10" r="5.90" fill="#005500"/>
<polygon points="597.80,164.40 603.20,173.20 592.40,173.20" fill="#0000ff"/>
<polygon points="644.30,164.40 649.70,173.20 638.90,173.20" fill="#0000b9"/>
<polygon points="690.80,164.40 696.20,173.20 685.40,173.20" fill="#000037"/>
<path d="M759.8,118.2H787.8" stroke="#ff0000" stroke-width="4.7"/>
<path d="M759.8,139.6H788.4" stroke="#00ff00" stroke-width="4.7"/>
<path d="M759.8,164.7H788.4" stroke="#0000ff" stroke-width="4.7"/>
<text x="81.55" y="43.50" font-size="28.02" textLength="15.64" lengthAdjust="spacingAndGlyphs">1</text>
<text x="58.60" y="245.30" font-size="27.29" textLength="38.71" lengthAdjust="spacingAndGlyphs">0.1</text>
<text x="44.50" y="446.85" font-size="27.93" textLength="52.55" lengthAdjust="spacingAndGlyphs">0.01</text>
<text x="133.60" y="534.85" font-size="27.36" textLength="45.76" lengthAdjust="spacingAndGlyphs">100</text>
<text x="540.05" y="534.85" font-size="27.36" textLength="59.49" lengthAdjust="spacingAndGlyphs">1000</text>
<text transform="translate(35.70,306.50) rotate(-90)" font-size="26.96" textLength="90.87" lengthAdjust="spacingAndGlyphs">Albedo</text>
<text x="420.60" y="571.50" font-size="28.08" textLength="17.92" lengthAdjust="spacingAndGlyphs">T</text>
<text x="437.10" y="578.75" font-size="20.56" textLength="25.83" lengthAdjust="spacingAndGlyphs">eff</text>
<text x="468.60" y="569.75" font-size="25.74" textLength="36.30" lengthAdjust="spacingAndGlyphs">(K)</text>
<text x="538.50" y="55.55" font-size="17.34" textLength="11.87" lengthAdjust="spacingAndGlyphs">g</text>
<text x="513.95" y="79.10" font-size="19.91" textLength="59.75" lengthAdjust="spacingAndGlyphs">(m/s²)</text>
<text x="616.00" y="60.00" font-size="18.94" textLength="13.25" lengthAdjust="spacingAndGlyphs">T</text>
<text x="628.35" y="63.50" font-size="12.66" textLength="15.41" lengthAdjust="spacingAndGlyphs">int</text>
<text x="644.75" y="59.25" font-size="18.71" textLength="26.78" lengthAdjust="spacingAndGlyphs">(K)</text>
<text x="584.40" y="90.20" font-size="16.58" textLength="32.41" lengthAdjust="spacingAndGlyphs">100</text>
<text x="628.80" y="90.20" font-size="16.58" textLength="31.87" lengthAdjust="spacingAndGlyphs">300</text>
<text x="672.60" y="90.20" font-size="16.58" textLength="44.79" lengthAdjust="spacingAndGlyphs">1000</text>
<text x="758.60" y="63.90" font-size="18.45" textLength="23.13" lengthAdjust="spacingAndGlyphs">Fit</text>
<text x="522.55" y="122.15" font-size="18.15" textLength="30.31" lengthAdjust="spacingAndGlyphs">2.5</text>
<text x="526.60" y="146.30" font-size="18.22" textLength="24.24" lengthAdjust="spacingAndGlyphs">25</text>
<text x="521.55" y="175.75" font-size="18.30" textLength="35.54" lengthAdjust="spacingAndGlyphs">250</text>
<text x="156.20" y="446.55" font-size="14.22" textLength="8.68" lengthAdjust="spacingAndGlyphs">0</text>
<text x="144.60" y="414.45" font-size="14.22" textLength="20.60" lengthAdjust="spacingAndGlyphs">0.1</text>
<text x="144.60" y="382.10" font-size="14.22" textLength="20.60" lengthAdjust="spacingAndGlyphs">0.2</text>
<text x="144.60" y="349.95" font-size="14.22" textLength="20.59" lengthAdjust="spacingAndGlyphs">0.3</text>
<text x="144.60" y="317.60" font-size="14.22" textLength="20.32" lengthAdjust="spacingAndGlyphs">0.4</text>
<text x="144.60" y="285.50" font-size="14.22" textLength="20.32" lengthAdjust="spacingAndGlyphs">0.5</text>
<text x="177.20" y="461.10" font-size="14.08" textLength="24.64" lengthAdjust="spacingAndGlyphs">100</text>
<text x="326.50" y="461.10" font-size="14.08" textLength="31.50" lengthAdjust="spacingAndGlyphs">1000</text>
<text transform="translate(136.15,382.95) rotate(-90)" font-size="13.64" textLength="48.37" lengthAdjust="spacingAndGlyphs">Albedo</text>
<text x="280.80" y="480.05" font-size="13.44" textLength="8.62" lengthAdjust="spacingAndGlyphs">T</text>
<text x="289.05" y="484.75" font-size="12.17" textLength="12.66" lengthAdjust="spacingAndGlyphs">eff</text>
<text x="304.90" y="479.90" font-size="13.56" textLength="19.74" lengthAdjust="spacingAndGlyphs">(K)</text>
</svg>
</body></html>
